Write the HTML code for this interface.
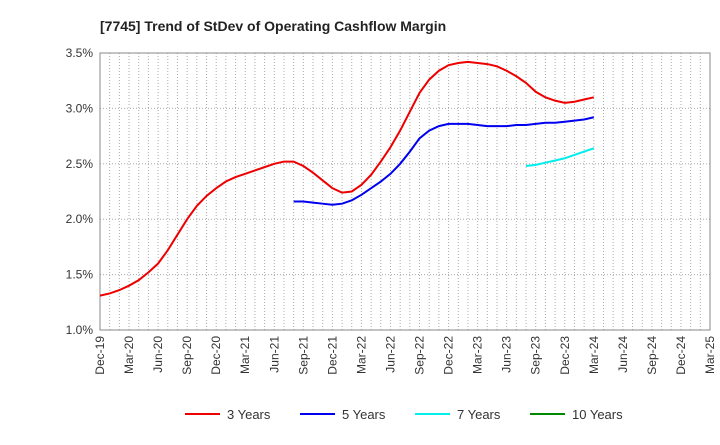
<!DOCTYPE html>
<html><head><meta charset="utf-8"><style>
body{margin:0;background:#fff;font-family:"Liberation Sans",sans-serif;}
</style></head><body>
<svg width="720" height="440" xmlns="http://www.w3.org/2000/svg">
<text x="100" y="31" font-size="14" font-weight="bold" fill="#222">[7745]  Trend of StDev of Operating Cashflow Margin</text>
<g id="grid"></g><g id="axes"></g><g id="series"></g><g id="legend"></g>
</svg>
<script>
const xTickLabels=["Dec-19","Mar-20","Jun-20","Sep-20","Dec-20","Mar-21","Jun-21","Sep-21","Dec-21","Mar-22","Jun-22","Sep-22","Dec-22","Mar-23","Jun-23","Sep-23","Dec-23","Mar-24","Jun-24","Sep-24","Dec-24","Mar-25"];
const yTicks=[1.0,1.5,2.0,2.5,3.0,3.5];
const s3Start=0;
const s3=[1.31,1.33,1.36,1.40,1.45,1.52,1.60,1.72,1.86,2.00,2.12,2.21,2.28,2.34,2.38,2.41,2.44,2.47,2.50,2.52,2.52,2.48,2.42,2.35,2.28,2.24,2.25,2.31,2.40,2.52,2.65,2.80,2.97,3.14,3.26,3.34,3.39,3.41,3.42,3.41,3.40,3.38,3.34,3.29,3.23,3.15,3.10,3.07,3.05,3.06,3.08,3.10];
const s5Start=20;
const s5=[2.16,2.16,2.15,2.14,2.13,2.14,2.17,2.22,2.28,2.34,2.41,2.50,2.61,2.73,2.80,2.84,2.86,2.86,2.86,2.85,2.84,2.84,2.84,2.85,2.85,2.86,2.87,2.87,2.88,2.89,2.90,2.92];
const s7Start=44;
const s7=[2.48,2.49,2.51,2.53,2.55,2.58,2.61,2.64];
const x0=100,x1=710,y0=330,y1=53;
const X=m=>x0+(x1-x0)*m/63;
const Y=v=>y0-(v-1.0)/2.5*(y0-y1);
const NS="http://www.w3.org/2000/svg";
function mk(t,a,p){const e=document.createElementNS(NS,t);for(const k in a)e.setAttribute(k,a[k]);p.appendChild(e);return e;}
const grid=document.getElementById('grid'),axes=document.getElementById('axes'),ser=document.getElementById('series'),leg=document.getElementById('legend');
for(let m=1;m<63;m++){const l=mk('line',{x1:X(m),x2:X(m),y1:y1,y2:y0,stroke:'#aaa','stroke-dasharray':'1,2','stroke-width':1},grid);

}
yTicks.forEach(v=>{const l=mk('line',{x1:x0,x2:x1,y1:Y(v),y2:Y(v),stroke:'#aaa','stroke-dasharray':'1,2'},grid);


const t=mk('text',{x:x0-7,y:Y(v)+4,'text-anchor':'end','font-size':12,fill:'#333'},axes);t.textContent=v.toFixed(1)+'%';

});
const fr=mk('rect',{x:x0,y:y1,width:x1-x0,height:y0-y1,fill:'none',stroke:'#888'},axes);


xTickLabels.forEach((s,i)=>{const x=X(i*3);const t=mk('text',{transform:`translate(${x+4},${y0+6}) rotate(-90)`,'text-anchor':'end','font-size':12,fill:'#333'},axes);t.textContent=s;

});
function line(data,start,color,name){const p=mk('polyline',{points:data.map((v,i)=>X(start+i)+','+Y(v)).join(' '),fill:'none',stroke:color,'stroke-width':2},ser);

}
line(s3,s3Start,'#e00','line-3-years');
line(s5,s5Start,'#00e','line-5-years');
line(s7,s7Start,'#0ee','line-7-years');
[["3 Years","#e00",185],["5 Years","#00e",300],["7 Years","#0ee",415],["10 Years","#080",530]].forEach(([n,c,x])=>{
const g=mk('g',{},leg);


mk('line',{x1:x,x2:x+35,y1:414,y2:414,stroke:c,'stroke-width':2},g);
const t=mk('text',{x:x+42,y:419,'font-size':13,fill:'#333'},g);t.textContent=n;});
</script>
</body></html>
